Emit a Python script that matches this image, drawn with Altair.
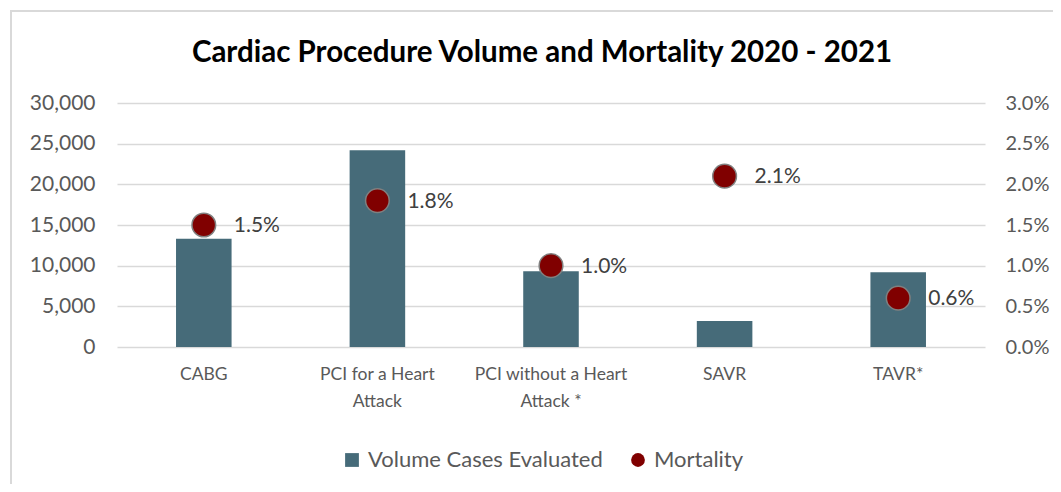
import altair as alt
import pandas as pd

categories = ["CABG", "PCI for a Heart Attack", "PCI without a Heart Attack *", "SAVR", "TAVR*"]
volume = [13300, 24200, 9300, 3200, 9200]
mortality = [0.015, 0.018, 0.010, 0.021, 0.006]
series_names = ["Volume Cases Evaluated", "Mortality"]
left_ticks = [0, 5000, 10000, 15000, 20000, 25000, 30000]
right_ticks = [0, 0.005, 0.010, 0.015, 0.020, 0.025, 0.030]

BAR = "#466b79"
DOT = "#800000"
FONT = "Lato"
GRAY = "#595959"

df = pd.DataFrame({
    "category": categories,
    "volume": volume,
    "mortality": mortality,
    "vol_series": series_names[0],
    "mort_series": series_names[1],
})

x = alt.X("category:N", sort=categories, title=None,
          scale=alt.Scale(paddingInner=0.68, paddingOuter=0.34),
          axis=alt.Axis(labelAngle=0, domain=False, ticks=False, labelPadding=18,
                        labelFont=FONT, labelFontSize=17.5, labelColor=GRAY,
                        labelLineHeight=27, labelBaseline="top",
                        labelExpr="{'PCI for a Heart Attack': ['PCI for a Heart', 'Attack'], "
                                  "'PCI without a Heart Attack *': ['PCI without a Heart', 'Attack *']}[datum.label] || datum.label"))

color_scale = alt.Scale(domain=series_names, range=[BAR, DOT])
shape_scale = alt.Scale(domain=series_names, range=["square", "circle"])
legend = alt.Legend(title=None, orient="none", direction="horizontal",
                    legendX=224, legendY=346, labelFont=FONT, labelFontSize=22,
                    labelColor=GRAY, labelLimit=400, symbolSize=190,
                    symbolStrokeColor="#808080", symbolStrokeWidth=0,
                    columnPadding=24, labelOffset=5)

y_mort = alt.Y("mortality:Q", title=None,
               scale=alt.Scale(domain=[0, 0.03], nice=False),
               axis=alt.Axis(orient="right", values=right_ticks, format=".1%", domain=False,
                             ticks=False, grid=False, labelPadding=20, labelFont=FONT,
                             labelFontSize=20, labelColor=GRAY))

bars = alt.Chart(df).mark_bar(color=BAR).encode(
    x=x,
    y=alt.Y("volume:Q", title=None,
            scale=alt.Scale(domain=[0, 30000], nice=False),
            axis=alt.Axis(values=left_ticks, format=",.0f", domain=False, ticks=False,
                          labelPadding=22, labelFont=FONT, labelFontSize=21,
                          labelColor=GRAY, gridColor="#d9d9d9", gridWidth=1.5)),
    color=alt.Color("vol_series:N", scale=color_scale, legend=legend),
)

pts = alt.Chart(df).mark_point(filled=True, size=560, opacity=1,
                               stroke="#808080", strokeWidth=1.5).encode(
    x=x,
    y=y_mort,
    color=alt.Color("mort_series:N", scale=color_scale, legend=legend),
    shape=alt.Shape("mort_series:N", scale=shape_scale, legend=legend),
)

labels = alt.Chart(df).mark_text(align="left", baseline="middle", dx=30, dy=1,
                                 font=FONT, fontSize=21, color="#404040").encode(
    x=x,
    y=y_mort,
    text=alt.Text("mortality:Q", format=".1%"),
)

frame = alt.Chart(pd.DataFrame({"f": [0]})).mark_rect(
    fill=None, stroke="#d9d9d9", strokeWidth=2, clip=False).encode(
    x=alt.value(-106), x2=alt.value(1000), y=alt.value(-92), y2=alt.value(500))

points_layer = alt.layer(pts, labels)

chart = alt.layer(frame, bars, points_layer).resolve_scale(
    y="independent"
).properties(
    width=868, height=244,
    title=alt.TitleParams("Cardiac Procedure Volume and Mortality 2020 - 2021",
                          font=FONT, fontSize=29.5, fontWeight="bold", color="#000000",
                          anchor="middle", frame="group", dx=-9, offset=0, dy=58),
    autosize=alt.AutoSizeParams(type="none"),
    padding={"left": 109, "top": 95, "right": 68, "bottom": 137},
).configure_view(stroke=None)

chart.save("out.html", embed_options={"renderer": "svg", "actions": False})
